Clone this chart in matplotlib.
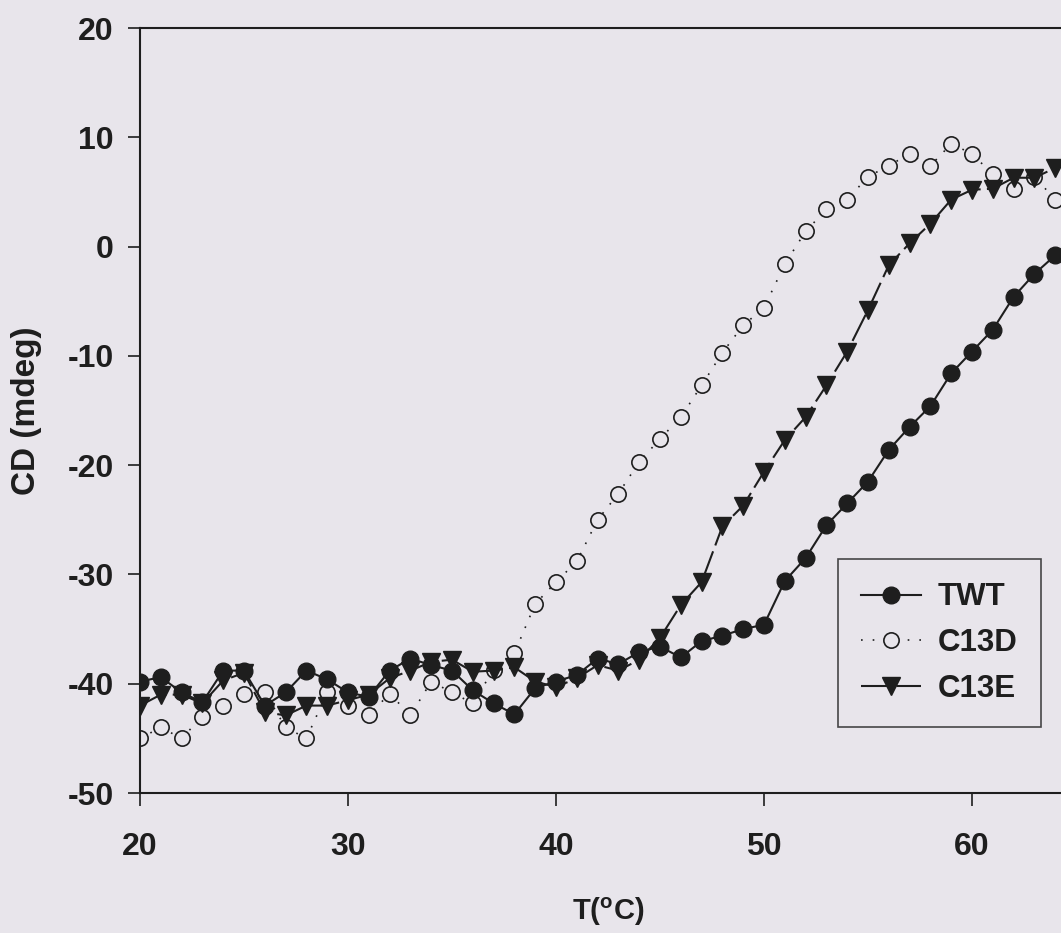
import numpy as np
import matplotlib
matplotlib.use('Agg')
import matplotlib.pyplot as plt

plt.rcParams['font.family'] = ['Liberation Sans', 'DejaVu Sans']
plt.rcParams['font.weight'] = 'bold'
plt.rcParams['axes.unicode_minus'] = False
plt.rcParams['mathtext.fontset'] = 'custom'
plt.rcParams['mathtext.rm'] = 'Liberation Sans:bold'
plt.rcParams['mathtext.bf'] = 'Liberation Sans:bold'

### Dati
temp = list(range(20, 65))

twt = [-39.8, -39.4, -40.8, -41.7, -38.8, -38.8, -42.0, -40.8, -38.8, -39.6,
       -40.8, -41.2, -38.8, -37.7, -38.3, -38.8, -40.6, -41.8, -42.8, -40.4,
       -39.8, -39.2, -37.7, -38.2, -37.1, -36.6, -37.6, -36.1, -35.6, -35.0,
       -34.6, -30.6, -28.5, -25.5, -23.5, -21.5, -18.6, -16.5, -14.6, -11.6,
       -9.6, -7.6, -4.6, -2.5, -0.8]

c13d = [-45.0, -44.0, -45.0, -43.0, -42.0, -40.9, -40.8, -44.0, -45.0, -40.8,
        -42.0, -42.9, -40.9, -42.9, -39.8, -40.8, -41.8, -38.7, -37.2, -32.7,
        -30.7, -28.8, -25.0, -22.6, -19.7, -17.6, -15.6, -12.7, -9.7, -7.2,
        -5.6, -1.6, 1.4, 3.4, 4.3, 6.4, 7.4, 8.5, 7.4, 9.4,
        8.5, 6.6, 5.3, 6.4, 4.3]

c13e = [-42.0, -41.0, -41.0, -41.8, -39.7, -39.0, -42.6, -42.9, -42.0, -42.0,
        -41.5, -41.0, -39.5, -38.8, -38.0, -37.8, -38.9, -38.8, -38.5, -39.8,
        -40.3, -39.5, -38.3, -38.8, -37.8, -35.8, -32.8, -30.7, -25.6, -23.7,
        -20.6, -17.7, -15.6, -12.7, -9.6, -5.8, -1.7, 0.3, 2.1, 4.3,
        5.2, 5.3, 6.3, 6.3, 7.2]

xticks = [20, 30, 40, 50, 60]
yticks = [-50, -40, -30, -20, -10, 0, 10, 20]

bg = '#e8e5eb'
ink = '#1e1e1e'

fig = plt.figure(figsize=(10.61, 9.33), dpi=100, facecolor=bg)
ax = fig.add_axes([0.13195, 0.15005, 0.8822, 0.8199], facecolor=bg)

ax.plot(temp, c13d, color=ink, lw=1.2, ls=(0, (1, 6)), marker='o', ms=11,
        mfc=bg, mec=ink, mew=1.2, label='C13D', zorder=2)
ax.plot(temp, c13e, color=ink, lw=1.5, ls=(0, (14, 3)), marker='v', ms=13,
        mfc=ink, mec=ink, label='C13E', zorder=3)
ax.plot(temp, twt, color=ink, lw=1.5, marker='o', ms=12, mfc=ink, mec=ink,
        label='TWT', zorder=4)

ax.set_xlim(20, 65)
ax.set_ylim(-50, 20)
ax.set_xticks(xticks)
ax.set_yticks(yticks)
ax.tick_params(direction='out', length=9, width=1.2, colors=ink,
               labelsize=23)
ax.tick_params(axis='x', pad=19)
ax.tick_params(axis='y', pad=10)

for s in ['left', 'bottom', 'top']:
    ax.spines[s].set_color(ink)
    ax.spines[s].set_linewidth(1.5)
ax.spines['right'].set_visible(False)

ax.set_xlabel(r'T($^{\mathrm{o}}$C)', fontsize=21, fontweight='bold', color=ink)
ax.set_ylabel('CD (mdeg)', fontsize=24, fontweight='bold', color=ink)
ax.xaxis.set_label_coords(0.5, -0.134)
ax.yaxis.set_label_coords(-0.1047, 0.5)

# legenda
handles, labels = ax.get_legend_handles_labels()
order = [2, 0, 1]
leg = ax.legend([handles[i] for i in order], [labels[i] for i in order],
                loc='upper left', bbox_to_anchor=(0.7457, 0.3059),
                borderaxespad=0, fontsize=22.5, frameon=True, fancybox=False,
                handlelength=1.9, handletextpad=0.55, borderpad=0.75,
                labelspacing=0.5)
leg.get_frame().set_edgecolor(ink)
leg.get_frame().set_linewidth(1.2)
leg.get_frame().set_facecolor(bg)
for t in leg.get_texts():
    t.set_color(ink)

plt.savefig('out.png', dpi=100, facecolor=bg)
